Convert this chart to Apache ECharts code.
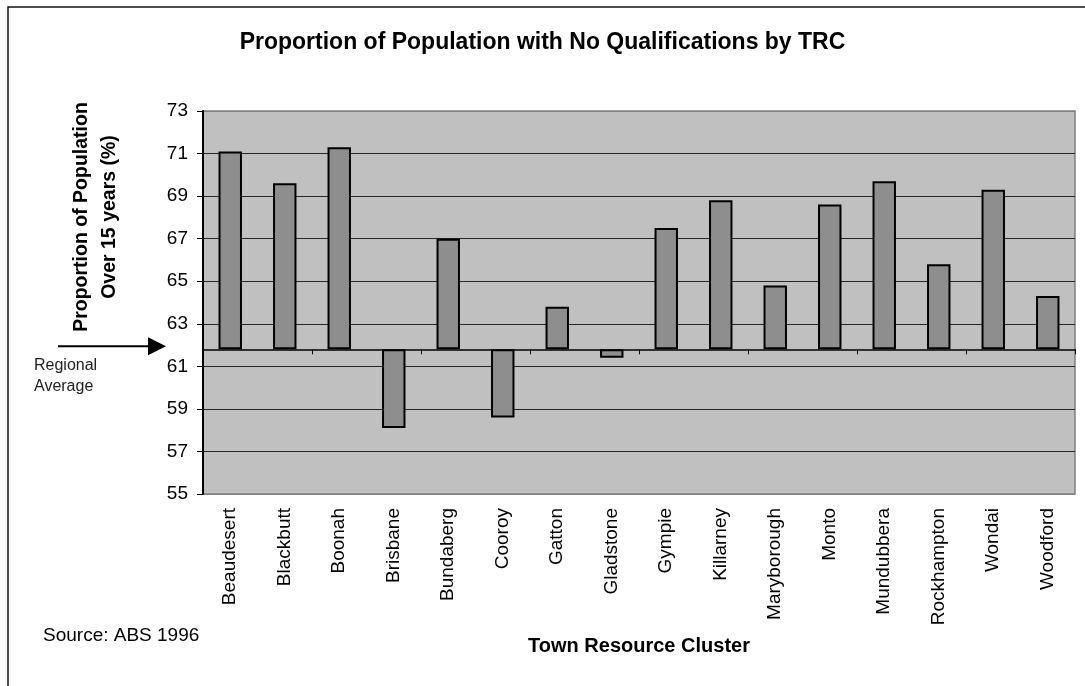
<!DOCTYPE html>
<html>
<head>
<meta charset="utf-8">
<script src="https://cdn.jsdelivr.net/npm/echarts@6/dist/echarts.min.js"></script>
<style>
  html, body { margin: 0; padding: 0; background: #ffffff; }
  #chart { width: 1085px; height: 686px; }
</style>
</head>
<body>
<div id="chart"></div>
<script>
// ---- data ----
const categories = ['Beaudesert', 'Blackbutt', 'Boonah', 'Brisbane', 'Bundaberg', 'Cooroy', 'Gatton', 'Gladstone',
  'Gympie', 'Killarney', 'Maryborough', 'Monto', 'Mundubbera', 'Rockhampton', 'Wondai', 'Woodford'];
const values = [71.1, 69.6, 71.3, 58.1, 67.0, 58.6, 63.8, 61.4, 67.5, 68.8, 64.8, 68.6, 69.7, 65.8, 69.3, 64.3];
const regionalAverage = 61.8;
const yMin = 55;
const yMax = 73;
const yStep = 2;

const titleText = 'Proportion of Population with No Qualifications by TRC';
const yNameLines = ['Proportion of Population', 'Over 15 years (%)'];
const xName = 'Town Resource Cluster';
const sourceText = 'Source: ABS 1996';
const avgLabel = 'Regional\nAverage';

// ---- derived (bars float from the regional average) ----
const baseData = values.map(v => Math.min(v, regionalAverage));
const diffData = values.map(v => +Math.abs(v - regionalAverage).toFixed(3));

const FONT = 'Arial, "Liberation Sans", sans-serif';
const gridTop = 111, gridBottom = 192, gridLeft = 203, gridRight = 10;
const gridHeight = 686 - gridTop - gridBottom;
const nLines = Math.round((yMax - yMin) / yStep) + 1;
const splitColors = Array.from({length: nLines}, (_, i) => (i === 0 || i === nLines - 1) ? '#808080' : '#262626');

const chart = echarts.init(document.getElementById('chart'), null, {renderer: 'canvas'});

const option = {
  animation: false,
  backgroundColor: '#ffffff',
  title: {
    text: titleText,
    left: 'center',
    top: 26,
    textStyle: { fontFamily: FONT, fontSize: 23, fontWeight: 'bold', color: '#000' }
  },
  grid: {
    left: gridLeft, right: gridRight, top: gridTop, bottom: gridBottom,
    show: true, backgroundColor: '#c0c0c0', borderColor: '#808080', borderWidth: 1.5
  },
  xAxis: [
    {
      type: 'category',
      data: categories,
      position: 'bottom',
      axisLine: { show: false },
      axisTick: { show: false },
      axisLabel: { rotate: 90, margin: 14, fontFamily: FONT, fontSize: 19, color: '#000', interval: 0 },
      name: xName,
      nameLocation: 'middle',
      nameGap: 142,
      nameTextStyle: { fontFamily: FONT, fontSize: 20, fontWeight: 'bold', color: '#000' }
    },
    {
      type: 'category',
      data: categories,
      position: 'bottom',
      offset: -gridHeight * (regionalAverage - yMin) / (yMax - yMin),
      axisLine: { show: true, lineStyle: { color: '#000', width: 1.5 } },
      axisTick: { show: true, length: 5, lineStyle: { color: '#000', width: 1 } },
      axisLabel: { show: false },
      splitLine: { show: false }
    }
  ],
  yAxis: {
    type: 'value',
    min: yMin, max: yMax, interval: yStep,
    axisLine: { show: true, lineStyle: { color: '#000', width: 2 } },
    axisTick: { show: true, length: 6, lineStyle: { color: '#000', width: 1 } },
    axisLabel: { margin: 15, fontFamily: FONT, fontSize: 19, color: '#000' },
    splitLine: { show: true, lineStyle: { color: splitColors, width: 1.2 } }
  },
  series: [
    {
      type: 'bar',
      stack: 'trc',
      xAxisIndex: 0,
      data: baseData,
      barWidth: '43%',
      itemStyle: { color: 'rgba(0,0,0,0)' },
      silent: true,
      z: 1
    },
    {
      type: 'bar',
      stack: 'trc',
      xAxisIndex: 0,
      data: diffData,
      barWidth: '43%',
      itemStyle: { color: '#8e8e8e', borderColor: '#000', borderWidth: 2 },
      z: 3
    }
  ]
};
chart.setOption(option);

const baseY = chart.convertToPixel({yAxisIndex: 0}, regionalAverage);
const arrowY = baseY - 3;

chart.setOption({
  graphic: [
    {
      type: 'rect',
      shape: { x: 8, y: 7, width: 1200, height: 800 },
      style: { fill: 'none', stroke: '#111', lineWidth: 1.5 },
      silent: true, z: -10
    },
    {
      type: 'text',
      x: 96, y: 217,
      rotation: Math.PI / 2,
      style: {
        text: yNameLines.join('\n'),
        font: 'bold 19.5px ' + FONT,
        fill: '#000',
        align: 'center',
        verticalAlign: 'middle',
        lineHeight: 28
      }
    },
    {
      type: 'line',
      shape: { x1: 58, y1: arrowY, x2: 150, y2: arrowY },
      style: { stroke: '#000', lineWidth: 2 }
    },
    {
      type: 'polygon',
      shape: { points: [[148, arrowY - 9], [166, arrowY], [148, arrowY + 9]] },
      style: { fill: '#000' }
    },
    {
      type: 'text',
      x: 34, y: baseY + 6,
      style: {
        text: avgLabel,
        font: '16px ' + FONT,
        fill: '#222',
        align: 'left',
        verticalAlign: 'top',
        lineHeight: 21
      }
    },
    {
      type: 'text',
      x: 43, y: 636,
      style: {
        text: sourceText,
        font: '19px ' + FONT,
        fill: '#000',
        align: 'left',
        verticalAlign: 'middle'
      }
    }
  ]
});
</script>
</body>
</html>
